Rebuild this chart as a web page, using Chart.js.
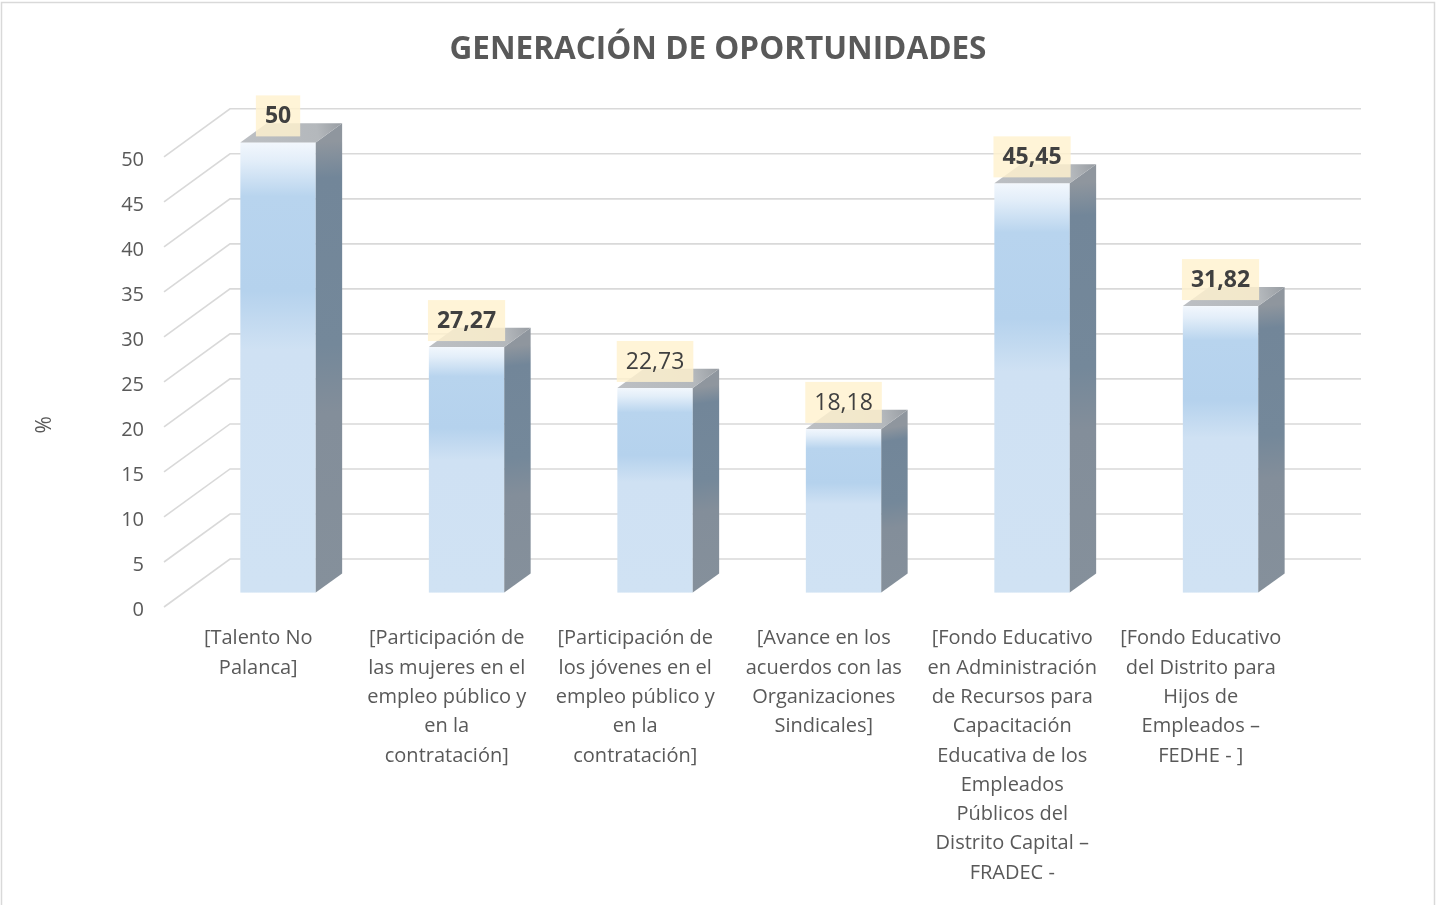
<!DOCTYPE html>
<html lang="es">
<head>
    <meta charset="UTF-8">
    <title>Generación de oportunidades</title>
    <script src="https://cdn.jsdelivr.net/npm/chart.js"></script>
    <style>
        body {
            margin: 0;
            background: #ffffff;
        }
        canvas {
            display: block;
        }
    </style>
</head>
<body>
    <canvas id="oportunidadesChart" width="1436" height="905"></canvas>

    <script>
        // Datos del gráfico
        const categorias = [
            ['[Talento No', 'Palanca]'],
            ['[Participación de', 'las mujeres en el', 'empleo público y', 'en la', 'contratación]'],
            ['[Participación de', 'los jóvenes en el', 'empleo público y', 'en la', 'contratación]'],
            ['[Avance en los', 'acuerdos con las', 'Organizaciones', 'Sindicales]'],
            ['[Fondo Educativo', 'en Administración', 'de Recursos para', 'Capacitación', 'Educativa de los', 'Empleados', 'Públicos del', 'Distrito Capital –', 'FRADEC -'],
            ['[Fondo Educativo', 'del Distrito para', 'Hijos de', 'Empleados –', 'FEDHE - ]']
        ];
        const porcentajes = [50, 27.27, 22.73, 18.18, 45.45, 31.82];
        const etiquetaNegrita = [true, true, false, false, true, true];
        const yTicks = [0, 5, 10, 15, 20, 25, 30, 35, 40, 45, 50];

        // perspectiva del gráfico 3D (desplazamiento del fondo respecto al frente)
        const FONDO_X = 66;
        const FONDO_Y = -48;
        const BARRA_FRENTE = 0.3;   // posición del frente de la barra en la profundidad
        const BARRA_FONDO = 0.7;

        const FUENTE = "'Open Sans', 'Noto Sans', sans-serif";
        const GRIS_TEXTO = '#595959';

        const formatoValor = v => String(v).replace('.', ',');

        const plugin3D = {
            id: 'plugin3D',
            beforeDraw(chart) {
                const ctx = chart.ctx;
                ctx.save();
                ctx.fillStyle = '#ffffff';
                ctx.fillRect(0, 0, chart.width, chart.height);
                ctx.strokeStyle = '#d9d9d9';
                ctx.lineWidth = 1.5;
                ctx.strokeRect(1.5, 2.5, chart.width - 3, chart.height + 10);
                ctx.restore();
            },
            beforeDatasetsDraw(chart) {
                const ctx = chart.ctx;
                const area = chart.chartArea;
                const y = chart.scales.y;
                ctx.save();
                ctx.strokeStyle = '#d9d9d9';
                ctx.lineWidth = 1.6;
                y.ticks.forEach(t => {
                    const py = y.getPixelForValue(t.value);
                    ctx.beginPath();
                    ctx.moveTo(area.left, py);
                    ctx.lineTo(area.left + FONDO_X, py + FONDO_Y);
                    ctx.lineTo(area.right + FONDO_X, py + FONDO_Y);
                    ctx.stroke();
                });

                // título del eje Y
                ctx.fillStyle = GRIS_TEXTO;
                ctx.font = '21px ' + FUENTE;
                ctx.textAlign = 'center';
                ctx.textBaseline = 'middle';
                ctx.translate(area.left - 119, (area.top + area.bottom) / 2 + 43);
                ctx.rotate(-Math.PI / 2);
                ctx.fillText('%', 0, 0);
                ctx.restore();
            },
            afterDatasetsDraw(chart) {
                const ctx = chart.ctx;
                const meta = chart.getDatasetMeta(0);
                const fx = FONDO_X * BARRA_FRENTE, fy = FONDO_Y * BARRA_FRENTE;
                const dx = FONDO_X * (BARRA_FONDO - BARRA_FRENTE);
                const dy = FONDO_Y * (BARRA_FONDO - BARRA_FRENTE);
                ctx.save();
                meta.data.forEach(bar => {
                    const p = bar.getProps(['x', 'y', 'base', 'width'], true);
                    const left = p.x - p.width / 2 + fx;
                    const right = p.x + p.width / 2 + fx;
                    const top = p.y + fy;
                    const base = p.base + fy;

                    // cara frontal
                    const g = ctx.createLinearGradient(0, top, 0, base);
                    g.addColorStop(0, '#f2f7fd');
                    g.addColorStop(0.04, '#e3eef9');
                    g.addColorStop(0.12, '#b8d4ee');
                    g.addColorStop(0.33, '#b5d2ed');
                    g.addColorStop(0.46, '#cfe1f3');
                    g.addColorStop(1, '#d0e2f3');
                    ctx.fillStyle = g;
                    ctx.fillRect(left, top, right - left, base - top);

                    // cara lateral
                    const gs = ctx.createLinearGradient(right, top, right + dx, base);
                    gs.addColorStop(0, '#8f969e');
                    gs.addColorStop(0.08, '#728699');
                    gs.addColorStop(0.45, '#74889a');
                    gs.addColorStop(0.6, '#838e9a');
                    gs.addColorStop(1, '#85909b');
                    ctx.fillStyle = gs;
                    ctx.beginPath();
                    ctx.moveTo(right, top);
                    ctx.lineTo(right + dx, top + dy);
                    ctx.lineTo(right + dx, base + dy);
                    ctx.lineTo(right, base);
                    ctx.closePath();
                    ctx.fill();

                    // cara superior
                    const gt = ctx.createLinearGradient(left, top, right + dx, top + dy);
                    gt.addColorStop(0, '#bcbfc3');
                    gt.addColorStop(0.75, '#b4b8bc');
                    gt.addColorStop(1, '#979ca2');
                    ctx.fillStyle = gt;
                    ctx.beginPath();
                    ctx.moveTo(left, top);
                    ctx.lineTo(left + dx, top + dy);
                    ctx.lineTo(right + dx, top + dy);
                    ctx.lineTo(right, top);
                    ctx.closePath();
                    ctx.fill();
                });

                // etiquetas de datos
                ctx.textAlign = 'center';
                ctx.textBaseline = 'middle';
                meta.data.forEach((bar, i) => {
                    const p = bar.getProps(['x', 'y'], true);
                    const texto = formatoValor(porcentajes[i]);
                    ctx.font = (etiquetaNegrita[i] ? 'bold ' : '') + '23px ' + FUENTE;
                    const w = ctx.measureText(texto).width + 18;
                    const h = 41;
                    const cx = p.x + fx;
                    const bottom = p.y + fy - 6;
                    ctx.fillStyle = 'rgba(255, 242, 206, 0.82)';
                    ctx.fillRect(cx - w / 2, bottom - h, w, h);
                    ctx.fillStyle = '#404040';
                    ctx.fillText(texto, cx, bottom - h / 2 + 1);
                });
                ctx.restore();
            }
        };

        const ctx = document.getElementById('oportunidadesChart').getContext('2d');
        new Chart(ctx, {
            type: 'bar',
            data: {
                labels: categorias,
                datasets: [{
                    label: '%',
                    data: porcentajes,
                    backgroundColor: 'rgba(0,0,0,0)',
                    categoryPercentage: 1,
                    barPercentage: 0.4
                }]
            },
            options: {
                responsive: false,
                animation: false,
                layout: {
                    padding: 0
                },
                plugins: {
                    legend: { display: false },
                    tooltip: { enabled: false },
                    title: {
                        display: true,
                        text: 'GENERACIÓN DE OPORTUNIDADES',
                        color: GRIS_TEXTO,
                        font: { family: FUENTE, size: 31.5, weight: 'bold' },
                        padding: { top: 31, bottom: 88 }
                    }
                },
                scales: {
                    x: {
                        grid: { display: false, drawTicks: false, tickLength: 0 },
                        border: { display: false },
                        ticks: {
                            color: GRIS_TEXTO,
                            font: { family: FUENTE, size: 20, lineHeight: 1.465 },
                            padding: 17,
                            maxRotation: 0,
                            autoSkip: false
                        },
                        afterFit(scale) { scale.height = 298; }
                    },
                    y: {
                        min: 0,
                        max: 50,
                        afterBuildTicks(scale) {
                            scale.ticks = yTicks.map(v => ({ value: v }));
                        },
                        grid: { display: false, drawTicks: false, tickLength: 0 },
                        border: { display: false },
                        ticks: {
                            color: GRIS_TEXTO,
                            font: { family: FUENTE, size: 20 },
                            padding: 20,
                            labelOffset: 3
                        },
                        afterFit(scale) { scale.width = 164; }
                    },
                    // margen derecho para el fondo 3D, sin marcas
                    margen: {
                        type: 'linear',
                        position: 'right',
                        display: true,
                        grid: { display: false, drawTicks: false },
                        border: { display: false },
                        ticks: { display: false },
                        afterFit(scale) { scale.width = 141; }
                    }
                }
            },
            plugins: [plugin3D]
        });
    </script>
</body>
</html>
